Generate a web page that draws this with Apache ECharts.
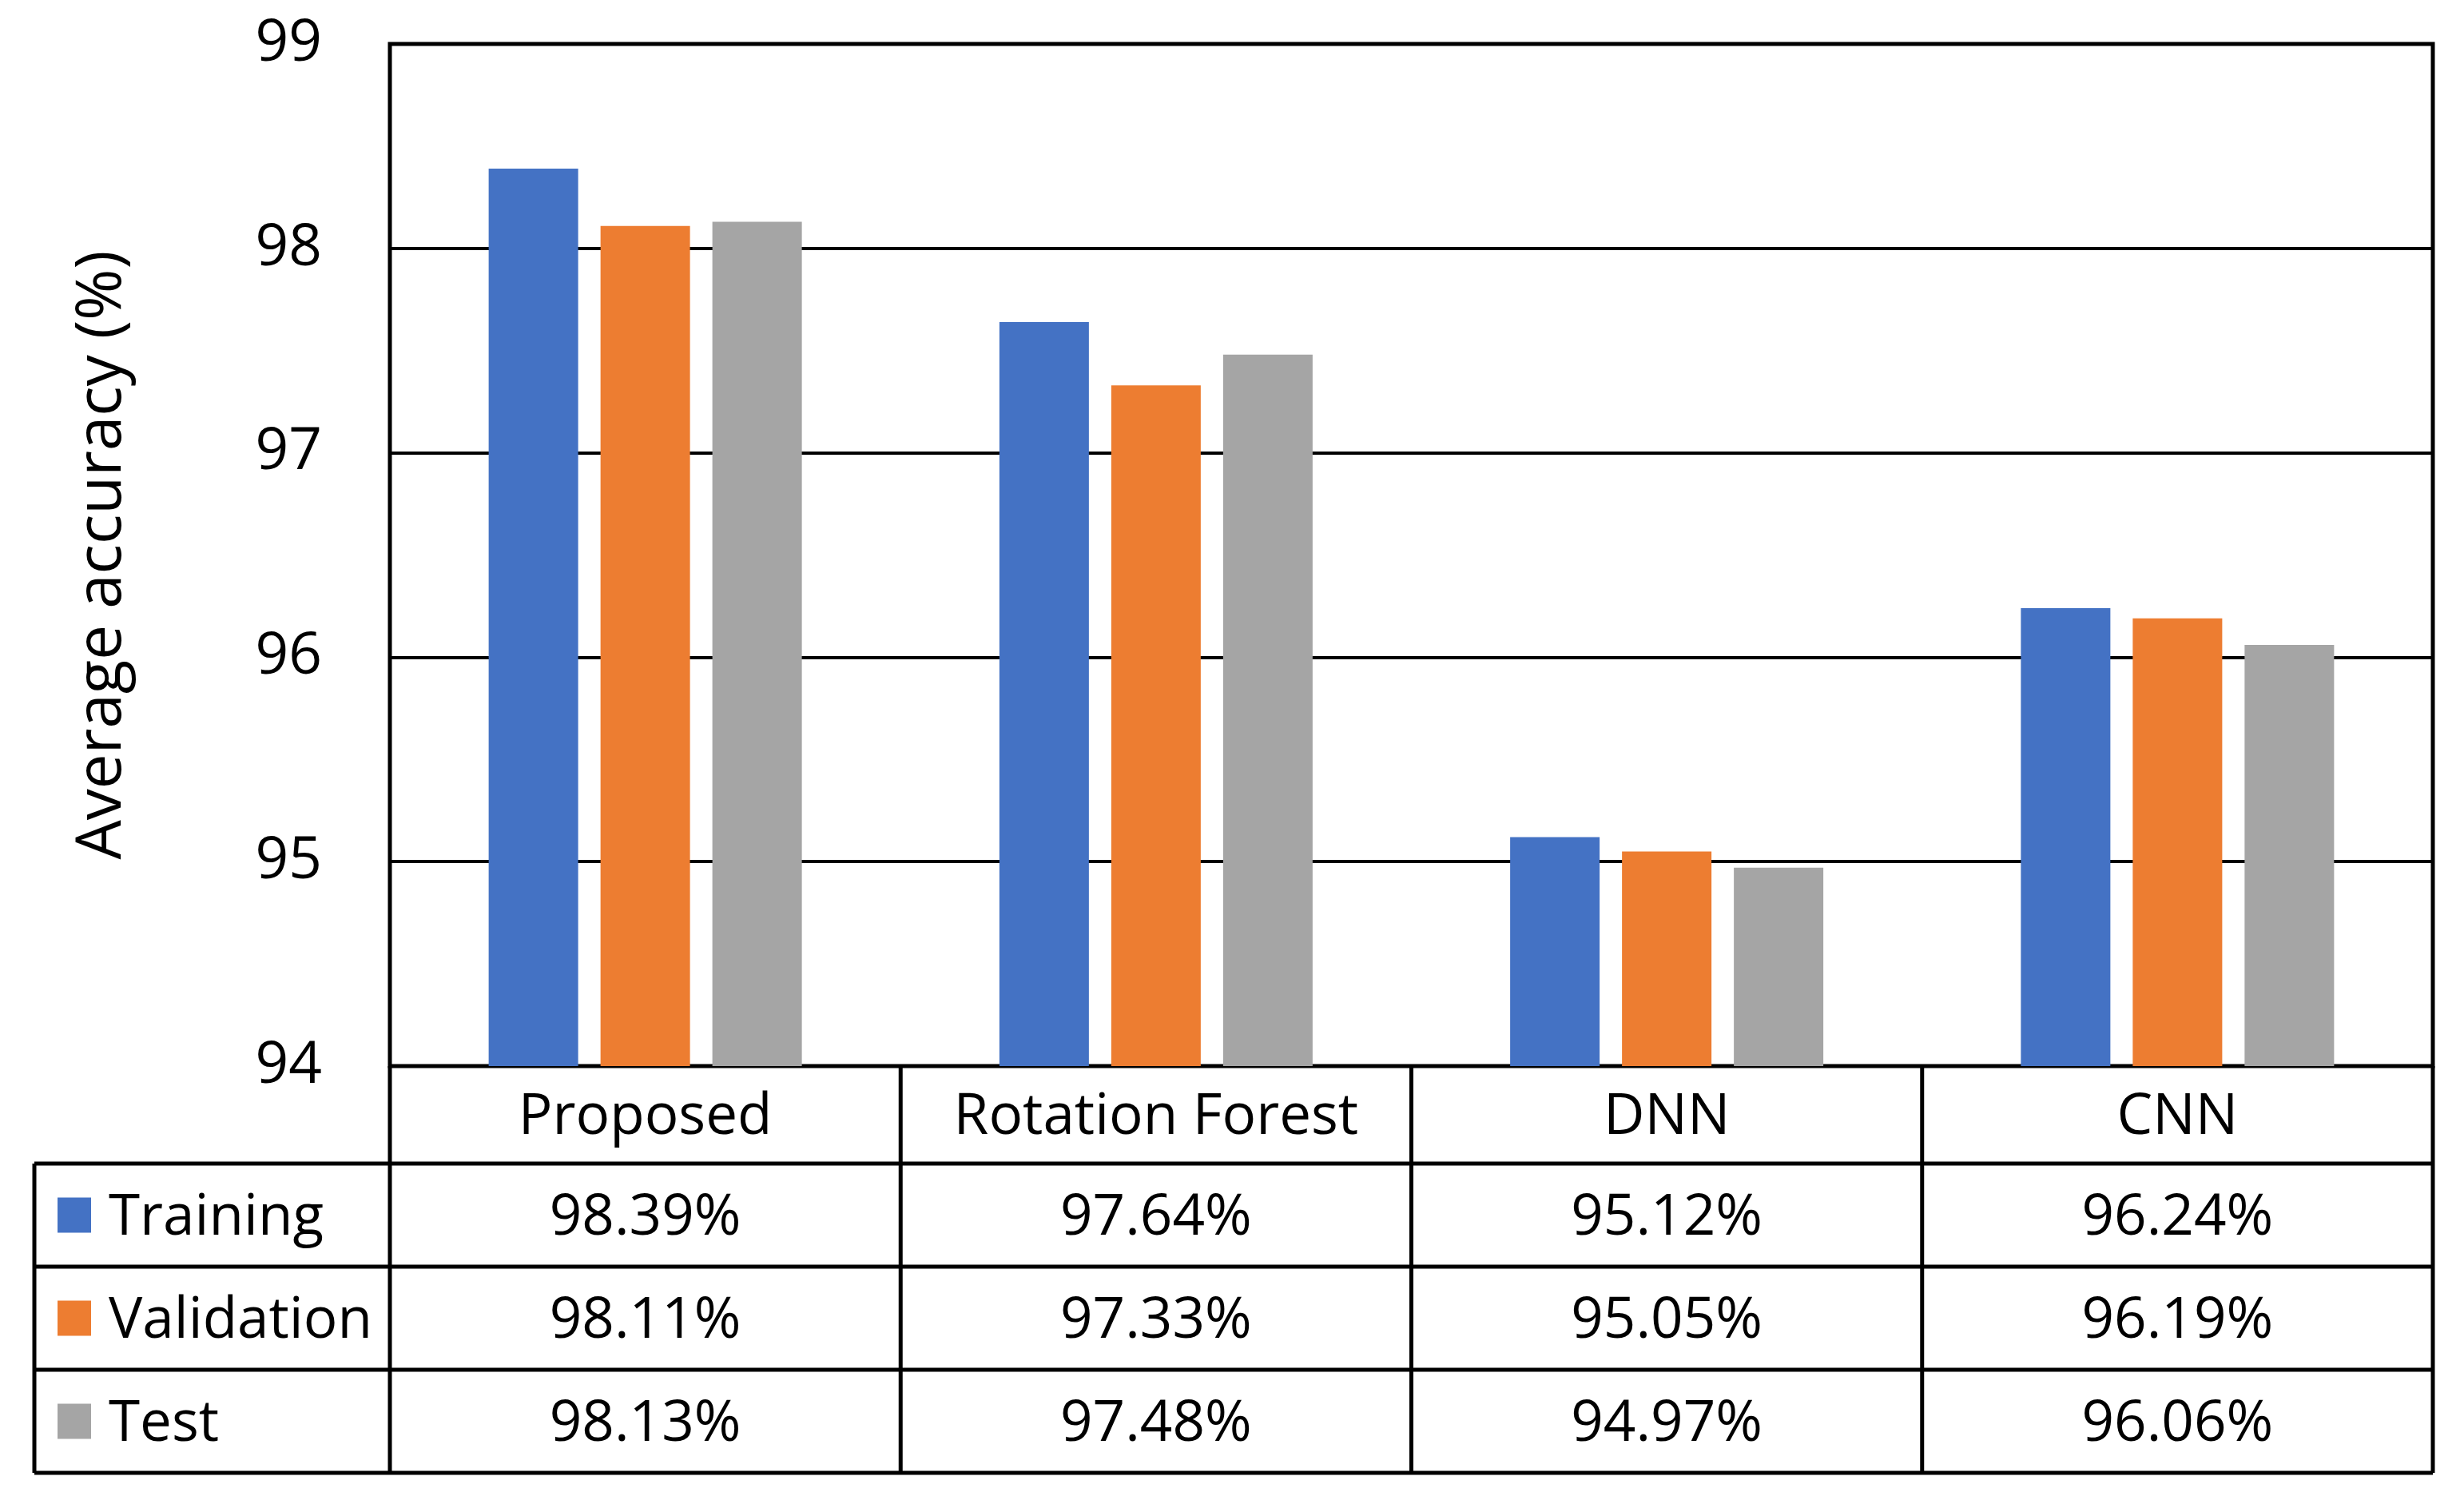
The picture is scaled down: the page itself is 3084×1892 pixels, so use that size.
<!DOCTYPE html>
<html>
<head>
<meta charset="utf-8">
<script src="https://cdn.jsdelivr.net/npm/echarts@6/dist/echarts.min.js"></script>
<style>
html,body{margin:0;padding:0;background:#fff;}
#main{width:3084px;height:1892px;}
</style>
</head>
<body>
<div id="main"></div>
<script>
const categories = ['Proposed', 'Rotation Forest', 'DNN', 'CNN'];
const seriesNames = ['Training', 'Validation', 'Test'];
const training = [98.39, 97.64, 95.12, 96.24];
const validation = [98.11, 97.33, 95.05, 96.19];
const test = [98.13, 97.48, 94.97, 96.06];
const yMin = 94, yMax = 99, yStep = 1;
const colors = ['#4472C4', '#ED7D31', '#A5A5A5'];
const FONT = 'Open Sans';
const FS = 71;

const seriesData = [training, validation, test];
const chart = echarts.init(document.getElementById('main'), null, {renderer: 'canvas'});

const option = {
  animation: false,
  backgroundColor: '#fff',
  textStyle: {fontFamily: FONT},
  grid: {left: 488, top: 55, width: 2557, height: 1279, show: true, borderColor: '#000', borderWidth: 5, backgroundColor: 'transparent'},
  xAxis: {
    type: 'category', data: categories,
    axisLine: {show: false}, axisTick: {show: false}, axisLabel: {show: false}, splitLine: {show: false}
  },
  yAxis: {
    type: 'value', min: yMin, max: yMax, interval: yStep,
    name: 'Average accuracy (%)', nameLocation: 'middle', nameRotate: 90, nameGap: 320,
    nameTextStyle: {fontSize: 78, color: '#000', fontFamily: FONT},
    axisLine: {show: false}, axisTick: {show: false},
    axisLabel: {fontSize: 73, color: '#000', margin: 85, fontFamily: FONT, verticalAlign: 'middle', lineHeight: 73, padding: [24, 0, 0, 0]},
    splitLine: {show: true, lineStyle: {color: '#000', width: 4}}
  },
  series: seriesNames.map((n, i) => ({
    name: n, type: 'bar', data: seriesData[i], barWidth: 112, barGap: '25%',
    itemStyle: {color: colors[i]}
  }))
};
chart.setOption(option);

// Build data table beneath the plot from the same arrays
const rect = chart.getModel().getComponent('grid').coordinateSystem.getRect();
const x0 = rect.x, x1 = rect.x + rect.width, yb = rect.y + rect.height;
const catW = rect.width / categories.length;
const headerH = 122, rowH = 129;
const legendLeft = 43;
const lw = 5;
const g = [];
const tableBottom = yb + headerH + rowH * seriesNames.length;
for (let i = 0; i <= categories.length; i++) {
  const x = x0 + i * catW;
  g.push({type: 'line', shape: {x1: x, y1: yb, x2: x, y2: tableBottom}, style: {stroke: '#000', lineWidth: lw}});
}
g.push({type: 'line', shape: {x1: legendLeft, y1: yb + headerH, x2: legendLeft, y2: tableBottom}, style: {stroke: '#000', lineWidth: lw}});
for (let r = 0; r <= seriesNames.length; r++) {
  const y = yb + headerH + r * rowH;
  g.push({type: 'line', shape: {x1: legendLeft, y1: y, x2: x1, y2: y}, style: {stroke: '#000', lineWidth: lw}});
}
categories.forEach((c, i) => {
  const cx = chart.convertToPixel({xAxisIndex: 0}, c);
  g.push({type: 'text', x: cx, y: yb + headerH / 2 + 4, style: {text: c, font: FS + 'px "' + FONT + '"', fill: '#000', align: 'center', verticalAlign: 'middle'}});
  seriesData.forEach((arr, r) => {
    g.push({type: 'text', x: cx, y: yb + headerH + r * rowH + rowH / 2 + 4, style: {text: arr[i].toFixed(2) + '%', font: FS + 'px "' + FONT + '"', fill: '#000', align: 'center', verticalAlign: 'middle'}});
  });
});
seriesNames.forEach((n, r) => {
  const cy = yb + headerH + r * rowH + rowH / 2;
  g.push({type: 'rect', shape: {x: 72, y: cy - 22, width: 42, height: 44}, style: {fill: colors[r]}});
  g.push({type: 'text', x: 136, y: cy + 4, style: {text: n, font: FS + 'px "' + FONT + '"', fill: '#000', align: 'left', verticalAlign: 'middle'}});
});
chart.setOption({graphic: g});
</script>
</body>
</html>
